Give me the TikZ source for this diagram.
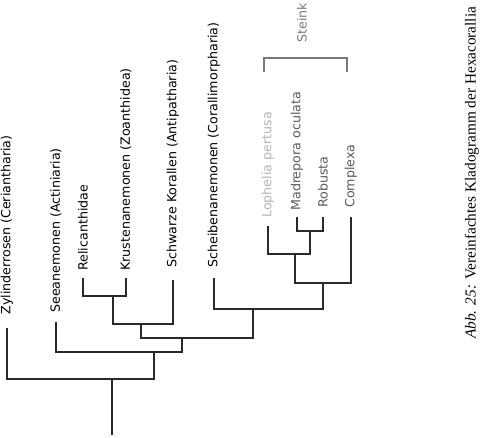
\documentclass[tikz,border=0pt]{standalone}
\usepackage{fontspec}
\setsansfont{DejaVu Sans}
\newfontfamily\capfont{Liberation Serif}
\usetikzlibrary{calc}

\definecolor{stemgray}{HTML}{2A2A2A}
\definecolor{palegray}{HTML}{B4B4B4}
\definecolor{midgray}{HTML}{5A5A5A}
\definecolor{bracketgray}{HTML}{7A7A7A}

\begin{document}
\begin{tikzpicture}[
    x=0.02cm, y=-0.02cm,
    branch/.style={draw=stemgray, line width=0.6pt},
    taxon/.style={rotate=90, anchor=west, inner sep=0pt, font=\sffamily\fontsize{7.2}{8.5}\selectfont},
    clade/.style={draw=bracketgray, line width=0.6pt},
    caption/.style={rotate=90, anchor=west, inner sep=0pt, font=\capfont\fontsize{8.7}{10}\selectfont}
]
    \useasboundingbox (0,0) rectangle (480,437);

    % Inner nodes of the tree
    \coordinate (base) at (112,435);
    \coordinate (root) at (112,379);
    \coordinate (n1) at (154,352);
    \coordinate (n2) at (182,338);
    \coordinate (n3) at (141,324);
    \coordinate (n4) at (253,309);
    \coordinate (n5) at (113,296);
    \coordinate (n6) at (323,283);
    \coordinate (n7) at (295,254);
    \coordinate (n8) at (310,231);

    % Leaf tips
    \coordinate (zyl) at (7,328);
    \coordinate (see) at (56,322);
    \coordinate (rel) at (83,278);
    \coordinate (kru) at (126,278);
    \coordinate (sch) at (173,280);
    \coordinate (sbe) at (214,278);
    \coordinate (lop) at (268,226);
    \coordinate (mad) at (297,217);
    \coordinate (rob) at (323,217);
    \coordinate (com) at (351,217);

    % Taxa
    \node[taxon] (zylT) at (7,315) {Zylinderrosen (Ceriantharia)};
    \node[taxon] (seeT) at (56,313) {Seeanemonen (Actiniaria)};
    \node[taxon] (relT) at (83,271) {Relicanthidae};
    \node[taxon] (kruT) at (126,271) {Krustenanemonen (Zoanthidea)};
    \node[taxon] (schT) at (173,268) {Schwarze Korallen (Antipatharia)};
    \node[taxon] (sbeT) at (214,268) {Scheibenanemonen (Corallimorpharia)};
    \node[taxon, text=palegray] (lopT) at (268,218) {Lophelia pertusa};
    \node[taxon, text=midgray] (madT) at (297,211) {Madrepora oculata};
    \node[taxon, text=midgray] (robT) at (323,208) {Robusta};
    \node[taxon, text=midgray] (comT) at (351,208) {Complexa};

    % Branches
    \draw[branch] (base) -- (root);
    \draw[branch] (zyl) |- (root);
    \draw[branch] (n1) |- (root);
    \draw[branch] (see) |- (n1);
    \draw[branch] (n2) |- (n1);
    \draw[branch] (n3) |- (n2);
    \draw[branch] (n4) |- (n2);
    \draw[branch] (n5) |- (n3);
    \draw[branch] (sch) |- (n3);
    \draw[branch] (rel) |- (n5);
    \draw[branch] (kru) |- (n5);
    \draw[branch] (sbe) |- (n4);
    \draw[branch] (n6) |- (n4);
    \draw[branch] (n7) |- (n6);
    \draw[branch] (com) |- (n6);
    \draw[branch] (lop) |- (n7);
    \draw[branch] (n8) |- (n7);
    \draw[branch] (mad) |- (n8);
    \draw[branch] (rob) |- (n8);

    % Steinkorallen bracket
    \coordinate (brL) at (264,72);
    \coordinate (brR) at (347,72);
    \draw[clade] (brL) -- ++(0,-14) -| (brR);
    \node[taxon, text=bracketgray] (steinT) at (302,43) {Steink};

    % Caption
    \node[caption] (cap) at (472,339) {\textit{Abb. 25:} Vereinfachtes Kladogramm der Hexacorallia};
\end{tikzpicture}
\end{document}
